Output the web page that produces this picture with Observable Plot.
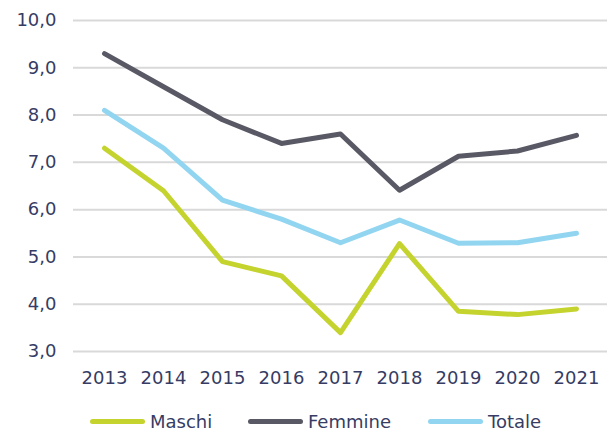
<!DOCTYPE html>
<html>
<head>
<meta charset="utf-8">
<script src="https://cdn.jsdelivr.net/npm/d3@7"></script>
<script src="https://cdn.jsdelivr.net/npm/@observablehq/plot@0.6"></script>
<style>
  html, body { margin: 0; padding: 0; background: #fff; }
  #chart { width: 612px; }
  .legend { display: flex; justify-content: flex-start; align-items: center; height: 42px; font-family: "DejaVu Sans", sans-serif; font-size: 18px; color: #363c64; }
  .item { display: flex; align-items: center; position: absolute; }
  .swatch { width: 55px; height: 5px; border-radius: 3px; margin-right: 5px; }
</style>
</head>
<body>
<div id="chart"></div>
<script>
const years = [2013, 2014, 2015, 2016, 2017, 2018, 2019, 2020, 2021];
const maschi = [7.3, 6.4, 4.9, 4.6, 3.4, 5.28, 3.85, 3.78, 3.9];
const femmine = [9.3, 8.6, 7.9, 7.4, 7.6, 6.41, 7.13, 7.24, 7.57];
const totale = [8.1, 7.3, 6.2, 5.8, 5.3, 5.78, 5.29, 5.3, 5.5];
const seriesNames = ["Maschi", "Femmine", "Totale"];
const seriesColors = ["#c5d32e", "#595966", "#92d5f0"];
const yTicks = [3, 4, 5, 6, 7, 8, 9, 10];

const seriesValues = [maschi, femmine, totale];
const data = seriesNames.flatMap((name, i) =>
  years.map((year, j) => ({ series: name, year: String(year), value: seriesValues[i][j] }))
);

const textColor = "#363c64";
const plot = Plot.plot({
  width: 612,
  height: 400,
  marginTop: 20,
  marginBottom: 49,
  marginLeft: 73,
  marginRight: 5,
  style: { fontFamily: "DejaVu Sans, sans-serif", fontSize: "18px", color: textColor, background: "#fff" },
  x: { type: "point", domain: years.map(String), padding: 0.5, label: null, tickSize: 0, tickPadding: 20 },
  y: { domain: [3, 10], ticks: yTicks, label: null, tickSize: 0, tickPadding: 17, tickFormat: d => d.toFixed(1).replace(".", ",") },
  color: { domain: seriesNames, range: seriesColors },
  marks: [
    Plot.ruleY(yTicks, { stroke: "#d9d9d9", strokeWidth: 2 }),
    Plot.line(data, { x: "year", y: "value", z: "series", stroke: "series", strokeWidth: 5, strokeLinejoin: "round", strokeLinecap: "round" })
  ]
});
plot.querySelectorAll("text").forEach(t => t.setAttribute("fill", textColor));
document.getElementById("chart").appendChild(plot);

const legend = document.createElement("div");
legend.className = "legend";
legend.style.position = "relative";
const lefts = [90, 248, 428];
seriesNames.forEach((name, i) => {
  const item = document.createElement("div");
  item.className = "item";
  item.style.left = lefts[i] + "px";
  const sw = document.createElement("div");
  sw.className = "swatch";
  sw.style.background = seriesColors[i];
  const label = document.createElement("span");
  label.textContent = name;
  item.appendChild(sw);
  item.appendChild(label);
  legend.appendChild(item);
});
document.getElementById("chart").appendChild(legend);
</script>
</body>
</html>
